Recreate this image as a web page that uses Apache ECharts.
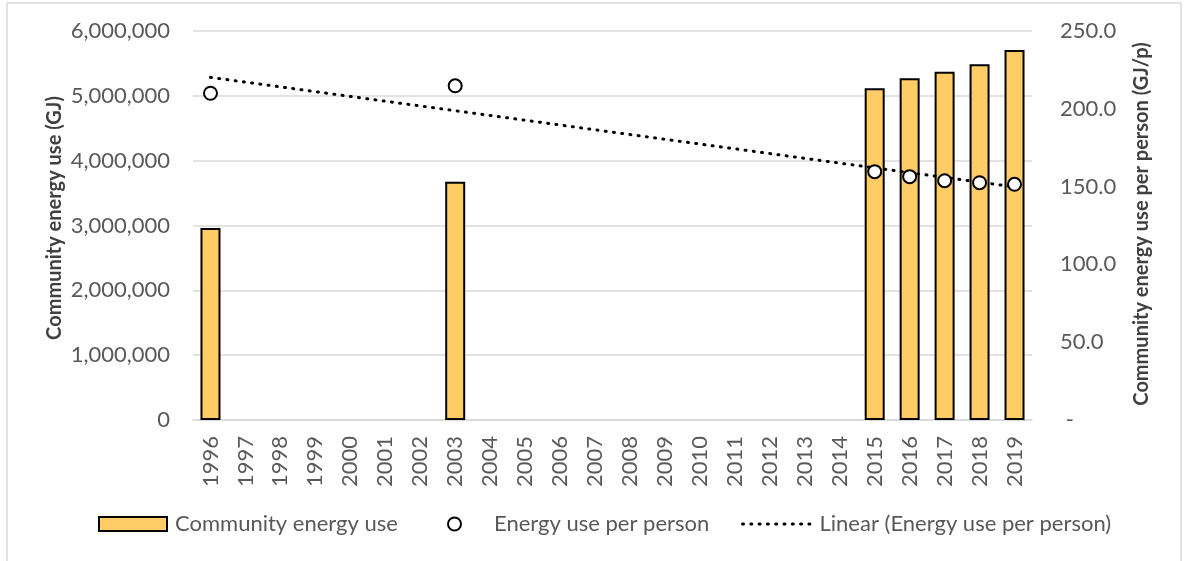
<!DOCTYPE html>
<html>
<head>
<meta charset="utf-8">
<script src="https://cdn.jsdelivr.net/npm/echarts@6/dist/echarts.min.js"></script>
<style>
html,body{margin:0;padding:0;background:#fff;}
#c{width:1188px;height:561px;}
</style>
</head>
<body>
<div id="c"></div>
<script>
const years = ['1996','1997','1998','1999','2000','2001','2002','2003','2004','2005','2006','2007','2008','2009','2010','2011','2012','2013','2014','2015','2016','2017','2018','2019'];
const communityEnergy = [2962000,null,null,null,null,null,null,3675000,null,null,null,null,null,null,null,null,null,null,null,5117000,5270000,5373000,5486000,5707000];
const perPerson = [210.0,null,null,null,null,null,null,214.8,null,null,null,null,null,null,null,null,null,null,null,159.6,156.4,153.8,152.5,151.5];
const trendEnds = [['1996',220.2],['2019',149.8]];
const leftTicks = {min:0,max:6000000,interval:1000000};
const rightTicks = {min:0,max:250,interval:50};

const FONT = 'Lato';
const GRAY = '#595959';
const FS = 22;
const dotted = {color:'#000',width:3,type:[1,7.3],cap:'round'};
const chart = echarts.init(document.getElementById('c'));
chart.setOption({
  animation:false,
  backgroundColor:'#fff',
  grid:{left:193,right:156,top:31,bottom:141,containLabel:false},
  xAxis:{
    type:'category',data:years,
    axisLine:{lineStyle:{color:'#d9d9d9',width:1.5}},
    axisTick:{show:false},
    axisLabel:{interval:0,rotate:90,margin:16,color:GRAY,fontFamily:FONT,fontSize:FS}
  },
  yAxis:[{
    type:'value',min:leftTicks.min,max:leftTicks.max,interval:leftTicks.interval,
    axisLine:{show:false},axisTick:{show:false},
    splitLine:{lineStyle:{color:'#d9d9d9',width:1.5}},
    axisLabel:{margin:23,color:GRAY,fontFamily:FONT,fontSize:FS,
      formatter:v=>v.toLocaleString('en-US')}
  },{
    type:'value',min:rightTicks.min,max:rightTicks.max,interval:rightTicks.interval,
    position:'right',
    axisLine:{show:false},axisTick:{show:false},splitLine:{show:false},
    axisLabel:{margin:28,color:GRAY,fontFamily:FONT,fontSize:FS,
      formatter:v=>v===0?' -':v.toFixed(1)}
  }],
  legend:[
    {left:93,top:508,itemWidth:68,itemHeight:14,itemGap:0,
     data:[{name:'Community energy use',icon:'rect'}],
     textStyle:{color:GRAY,fontFamily:FONT,fontSize:FS,padding:[0,0,0,3]}},
    {left:442,top:508,itemWidth:13,itemHeight:13,itemGap:0,data:['Energy use per person'],
     textStyle:{color:GRAY,fontFamily:FONT,fontSize:FS,padding:[0,0,0,28]}},
    {left:736,top:508,itemWidth:68,itemHeight:14,itemGap:0,
     data:['Linear (Energy use per person)'],
     itemStyle:{opacity:0},
     lineStyle:Object.assign({opacity:1},dotted),
     textStyle:{color:GRAY,fontFamily:FONT,fontSize:FS,padding:[0,0,0,4]}}
  ],
  graphic:[
    {type:'rect',shape:{x:7,y:3,width:1174,height:570},style:{fill:'none',stroke:'#d9d9d9',lineWidth:1.5},silent:true},
    {type:'text',x:55,y:218,rotation:Math.PI/2,style:{text:'Community energy use (GJ)',fill:'#404040',font:'bold 20px Lato',textAlign:'center',textVerticalAlign:'middle'}},
    {type:'text',x:1142,y:224,rotation:Math.PI/2,style:{text:'Community energy use per person (GJ/p)',fill:'#404040',font:'bold 20px Lato',textAlign:'center',textVerticalAlign:'middle'}}
  ],
  series:[
    {name:'Community energy use',type:'bar',yAxisIndex:0,data:communityEnergy,barWidth:20,
     itemStyle:{color:'#FFCC66',borderColor:'#000',borderWidth:2}},
    {name:'Linear (Energy use per person)',type:'line',yAxisIndex:1,data:trendEnds,
     symbol:'none',z:4,itemStyle:{color:'#000'},
     lineStyle:dotted},
    {name:'Energy use per person',type:'scatter',yAxisIndex:1,data:perPerson,
     symbol:'circle',symbolSize:13,z:5,
     itemStyle:{color:'#fff',borderColor:'#000',borderWidth:2,opacity:1}}
  ]
});
</script>
</body>
</html>
